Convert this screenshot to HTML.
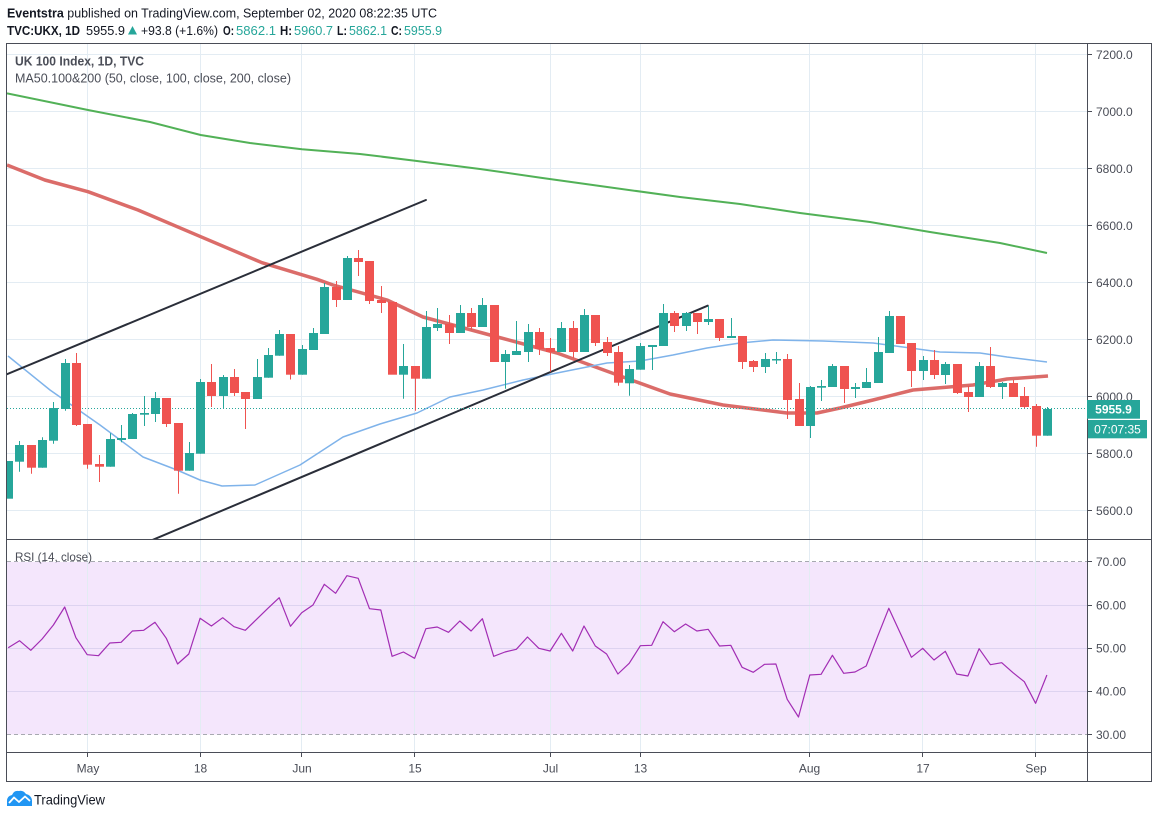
<!DOCTYPE html>
<html>
<head>
<meta charset="utf-8">
<style>
html,body{margin:0;padding:0;background:#fff;}
svg{display:block;}
text{font-family:"Liberation Sans",sans-serif;}
</style>
</head>
<body>
<svg width="1158" height="818" viewBox="0 0 1158 818" xmlns="http://www.w3.org/2000/svg">
<defs>
<clipPath id="mainclip"><rect x="7" y="44" width="1080" height="495"/></clipPath>
<clipPath id="rsiclip"><rect x="7" y="540" width="1080" height="212"/></clipPath>
</defs>
<rect x="0" y="0" width="1158" height="818" fill="#fff"/>

<!-- header -->
<text x="7" y="17.5" font-size="13" fill="#131722" textLength="430" lengthAdjust="spacingAndGlyphs"><tspan font-weight="bold">Eventstra</tspan> published on TradingView.com, September 02, 2020 08:22:35 UTC</text>
<g font-size="13">
<text x="7" y="35" font-weight="bold" fill="#131722" textLength="73" lengthAdjust="spacingAndGlyphs">TVC:UKX, 1D</text>
<text x="86" y="35" fill="#131722" textLength="39" lengthAdjust="spacingAndGlyphs">5955.9</text>
<path d="M128 34.5 L132.5 26 L137 34.5 Z" fill="#26a69a"/>
<text x="141" y="35" fill="#131722" textLength="77" lengthAdjust="spacingAndGlyphs">+93.8 (+1.6%)</text>
<text x="223" y="35" font-weight="bold" fill="#131722" textLength="11" lengthAdjust="spacingAndGlyphs">O:</text>
<text x="236" y="35" fill="#26a69a" textLength="40" lengthAdjust="spacingAndGlyphs">5862.1</text>
<text x="280" y="35" font-weight="bold" fill="#131722" textLength="12" lengthAdjust="spacingAndGlyphs">H:</text>
<text x="294" y="35" fill="#26a69a" textLength="39" lengthAdjust="spacingAndGlyphs">5960.7</text>
<text x="337" y="35" font-weight="bold" fill="#131722" textLength="10" lengthAdjust="spacingAndGlyphs">L:</text>
<text x="349" y="35" fill="#26a69a" textLength="38" lengthAdjust="spacingAndGlyphs">5862.1</text>
<text x="391" y="35" font-weight="bold" fill="#131722" textLength="11" lengthAdjust="spacingAndGlyphs">C:</text>
<text x="404" y="35" fill="#26a69a" textLength="38" lengthAdjust="spacingAndGlyphs">5955.9</text>
</g>

<!-- RSI band fill -->
<rect x="7" y="562" width="1080" height="172.5" fill="#f4e6fc"/>

<!-- grid -->
<g stroke="#e3ecf3" stroke-width="1" fill="none">
<path d="M7 54.5H1087M7 111.5H1087M7 168.5H1087M7 225.5H1087M7 282.5H1087M7 339.5H1087M7 396.5H1087M7 453.5H1087M7 510.5H1087"/>
<path d="M87.5 44V539M200.5 44V539M301.5 44V539M414.5 44V539M550.5 44V539M640.5 44V539M809.5 44V539M922.5 44V539M1035.5 44V539"/>
<path d="M87.5 540V752M200.5 540V752M301.5 540V752M414.5 540V752M550.5 540V752M640.5 540V752M809.5 540V752M922.5 540V752M1035.5 540V752"/>
</g>
<g stroke="#ddd3f0" stroke-width="1" fill="none">
<path d="M7 605.5H1087M7 648.5H1087M7 691.5H1087"/>
</g>
<g stroke="#a7a9b0" stroke-width="1" stroke-dasharray="4,3" fill="none">
<path d="M7 561.5H1087M7 734.5H1087"/>
</g>

<!-- main pane content -->
<g clip-path="url(#mainclip)">
<!-- MA200 -->
<polyline fill="none" stroke="#52b157" stroke-width="2" stroke-linejoin="round" points="7,93.3 88,110 150,122 200.7,135 250,143 302,149.3 360,154 415,160.7 480,169 540.7,177.7 600,186 680,197 740,204 800,213 870,222 930,232 1000,243 1047,253"/>
<!-- MA100 -->
<polyline fill="none" stroke="#d8605c" stroke-width="3.5" stroke-opacity="0.92" stroke-linejoin="round" points="7,165 44.8,180 88,191.7 138,210 200.7,236.7 262,262.7 317,279.3 333,285 387,300 423,317 490,335 557,353 623,377 670,394 723,405 787,413 817,413 840,408 873,400 913,390 973,385 1007,379 1048,376"/>
<!-- MA50 -->
<polyline fill="none" stroke="#7fb3ea" stroke-width="1.5" stroke-linejoin="round" points="8,356 50,390 100,425 143,457 177,470 200,480 222,486 255,485 300,465 343,437 380,424 417,413 450,397 483,390 523,380 557,373 607,363 640,361 673,355 707,348 740,343 773,340 823,341 873,343 940,352 980,353 1007,357 1047,362"/>

<!-- trendlines -->
<g stroke="#2a2e39" stroke-width="2" stroke-linecap="round">
<line x1="5" y1="375" x2="425.9" y2="200"/>
<line x1="150" y1="541" x2="707.7" y2="305.7"/>
</g>

<!-- current price dotted line -->
<line x1="7" y1="408.5" x2="1087" y2="408.5" stroke="#26a69a" stroke-width="1" stroke-dasharray="1,2"/>

<!-- green candles -->
<g fill="#26a69a">
<path stroke="#26a69a" stroke-width="1" fill="none" d="M19.5 441V471.7M42.5 437.3V467.7M53.5 402V443.7M65.5 359V410.7M110.5 433.3V466.7M121.5 425V442.3M132.5 413V439M144.5 396V426M155.5 392V422M189.5 442V470.7M200.5 379V453.7M223.5 375V408M257.5 359V399M268.5 348V377.7M279.5 330V355.7M302.5 345V374.7M313.5 328V350M324.5 283V334M347.5 256V300M403.5 344V398.7M426.5 311V378.7M437.5 308V331M460.5 305V333M482.5 298V327M505.5 350V388.7M516.5 321V355M528.5 324V362M561.5 322V352M584.5 309V352M629.5 365V395.7M640.5 343V369.7M652.5 345V370M663.5 304V346M686.5 312V331M708.5 306V325M731.5 318V338M765.5 353V373M776.5 352V364M810.5 386V438M821.5 380V401M832.5 364V387M855.5 383V398M866.5 368V388M878.5 337V383M889.5 311V353M923.5 356V380M945.5 362V384M979.5 362V397M1002.5 382V399M1047.5 407V435.7"/>
<rect x="4" y="461" width="9" height="37.7"/>
<rect x="15" y="445" width="9" height="16.7"/>
<rect x="38" y="440" width="9" height="27.7"/>
<rect x="49" y="408" width="9" height="32.7"/>
<rect x="61" y="363" width="9" height="46"/>
<rect x="106" y="439" width="9" height="27.7"/>
<rect x="117" y="438" width="9" height="2"/>
<rect x="128" y="414" width="9" height="25"/>
<rect x="140" y="413" width="9" height="1.7"/>
<rect x="151" y="398" width="9" height="16"/>
<rect x="185" y="453" width="9" height="17.7"/>
<rect x="196" y="382" width="9" height="71.7"/>
<rect x="219" y="377" width="9" height="19"/>
<rect x="253" y="377" width="9" height="22"/>
<rect x="264" y="355" width="9" height="22.7"/>
<rect x="275" y="334" width="9" height="21.7"/>
<rect x="298" y="349" width="9" height="25.7"/>
<rect x="309" y="333" width="9" height="17"/>
<rect x="320" y="287" width="9" height="47"/>
<rect x="343" y="258" width="9" height="42"/>
<rect x="399" y="366" width="9" height="8.7"/>
<rect x="422" y="327" width="9" height="51.7"/>
<rect x="433" y="324" width="9" height="4"/>
<rect x="456" y="313" width="9" height="20"/>
<rect x="478" y="305" width="9" height="22"/>
<rect x="501" y="354" width="9" height="8"/>
<rect x="512" y="351" width="9" height="4"/>
<rect x="524" y="332" width="9" height="20"/>
<rect x="557" y="328" width="9" height="24"/>
<rect x="580" y="315" width="9" height="37"/>
<rect x="625" y="369" width="9" height="14.3"/>
<rect x="636" y="346" width="9" height="23.7"/>
<rect x="648" y="345" width="9" height="2"/>
<rect x="659" y="313" width="9" height="33"/>
<rect x="682" y="313" width="9" height="13"/>
<rect x="704" y="319" width="9" height="3"/>
<rect x="727" y="336" width="9" height="2"/>
<rect x="761" y="359" width="9" height="8"/>
<rect x="772" y="359" width="9" height="1.5"/>
<rect x="806" y="387" width="9" height="39"/>
<rect x="817" y="386" width="9" height="1.7"/>
<rect x="828" y="366" width="9" height="21"/>
<rect x="851" y="387" width="9" height="2"/>
<rect x="862" y="382" width="9" height="6"/>
<rect x="874" y="352" width="9" height="31"/>
<rect x="885" y="316" width="9" height="37"/>
<rect x="919" y="360" width="9" height="11"/>
<rect x="941" y="364" width="9" height="11"/>
<rect x="975" y="366" width="9" height="31"/>
<rect x="998" y="383" width="9" height="4"/>
<rect x="1043" y="409" width="9" height="26.7"/>
</g>

<!-- red candles -->
<g fill="#ef5350">
<path stroke="#ef5350" stroke-width="1" fill="none" d="M31.5 445V473.7M76.5 353V426M87.5 424V468.7M99.5 455V482M166.5 398V427M178.5 423V493.7M211.5 364V407M234.5 369V396M245.5 392V429M290.5 334V379.5M336.5 281V307M358.5 250V276M369.5 261V304M381.5 286V313M415.5 366V410.7M449.5 315V344M471.5 308V330M539.5 328V355M550.5 338V371.7M573.5 321V358M595.5 315V346M607.5 337V356M618.5 346V385.7M674.5 311V332M697.5 313V334M719.5 319V341M742.5 336V369M753.5 360V372M787.5 354V419M799.5 383V426M844.5 366V403M911.5 343V387M934.5 350V379M957.5 364V394M968.5 386V412M990.5 347V388M1013.5 380V397M1024.5 387V408M1036.5 404V446.7"/>
<rect x="27" y="445" width="9" height="22.7"/>
<rect x="72" y="363" width="9" height="62"/>
<rect x="83" y="424" width="9" height="40.7"/>
<rect x="95" y="464" width="9" height="2.7"/>
<rect x="162" y="398" width="9" height="26"/>
<rect x="174" y="423" width="9" height="47.7"/>
<rect x="207" y="382" width="9" height="14"/>
<rect x="230" y="377" width="9" height="16"/>
<rect x="241" y="392" width="9" height="7"/>
<rect x="286" y="334" width="9" height="40.7"/>
<rect x="332" y="287" width="9" height="13"/>
<rect x="354" y="258" width="9" height="4"/>
<rect x="365" y="261" width="9" height="40"/>
<rect x="377" y="300" width="9" height="3"/>
<rect x="388" y="302" width="9" height="72.7"/>
<rect x="411" y="366" width="9" height="12.7"/>
<rect x="445" y="324" width="9" height="9"/>
<rect x="467" y="313" width="9" height="14"/>
<rect x="490" y="305" width="9" height="57"/>
<rect x="535" y="332" width="9" height="17"/>
<rect x="546" y="348" width="9" height="4"/>
<rect x="569" y="328" width="9" height="24"/>
<rect x="591" y="315" width="9" height="28"/>
<rect x="603" y="342" width="9" height="11"/>
<rect x="614" y="352" width="9" height="30.7"/>
<rect x="670" y="313" width="9" height="13"/>
<rect x="693" y="313" width="9" height="9"/>
<rect x="715" y="319" width="9" height="19"/>
<rect x="738" y="336" width="9" height="26"/>
<rect x="749" y="361" width="9" height="6"/>
<rect x="783" y="359" width="9" height="41"/>
<rect x="795" y="399" width="9" height="27"/>
<rect x="840" y="366" width="9" height="23"/>
<rect x="896" y="316" width="9" height="28"/>
<rect x="907" y="343" width="9" height="28"/>
<rect x="930" y="360" width="9" height="15"/>
<rect x="953" y="364" width="9" height="29"/>
<rect x="964" y="392" width="9" height="5"/>
<rect x="986" y="366" width="9" height="21"/>
<rect x="1009" y="383" width="9" height="14"/>
<rect x="1020" y="396" width="9" height="11"/>
<rect x="1032" y="406" width="9" height="29.7"/>
</g>
</g>

<!-- RSI line -->
<g clip-path="url(#rsiclip)">
<polyline fill="none" stroke="#a22db4" stroke-width="1.2" stroke-linejoin="round" points="8.2,647.7 19.5,640.7 30.8,650.3 42.1,639 53.4,625 64.7,607 75.9,637.7 87.2,654.7 98.5,655.7 109.8,643 121.1,642.3 132.4,631 143.7,630.3 155,622.3 166.3,638.3 177.6,664 188.8,654 200.1,618.3 211.4,626 222.7,617.7 234,626.7 245.3,630.3 256.6,619.3 267.9,608.3 279.2,597.7 290.5,626.3 301.7,612.7 313,605 324.3,584.3 335.6,593.3 346.9,575.7 358.2,578.3 369.5,608.7 380.8,610 392.1,656.3 403.4,652 414.6,658.3 425.9,628.7 437.2,627 448.5,632.3 459.8,621 471.1,631 482.4,618.7 493.7,656.3 505,652 516.3,649.3 527.5,637 538.8,648.3 550.1,651 561.4,633.3 572.7,651 584,626 595.3,646 606.6,654 617.9,674 629.2,663.3 640.4,645.7 651.7,645.3 663,621.7 674.3,631.7 685.6,624 696.9,631 708.2,629.3 719.5,646 730.8,645.3 742.1,667.3 753.3,672.3 764.6,664.3 775.9,664 787.2,699.3 798.5,717 809.8,675 821.1,674.3 832.4,655.3 843.7,673.3 855,672 866.2,666 877.5,636.7 888.8,608.3 900.1,632.7 911.4,657.3 922.7,648.3 934,660 945.3,651.3 956.6,674 967.9,676 979.1,648.7 990.4,664.7 1001.7,662.7 1013,672.7 1024.3,681.7 1035.6,703.3 1046.9,675"/>
</g>

<!-- legends -->
<text x="15" y="65.5" font-size="13" font-weight="bold" fill="#4a4d57" textLength="129" lengthAdjust="spacingAndGlyphs">UK 100 Index, 1D, TVC</text>
<text x="15" y="82.5" font-size="13" fill="#4a4d57" textLength="276" lengthAdjust="spacingAndGlyphs">MA50.100&amp;200 (50, close, 100, close, 200, close)</text>
<text x="15" y="561" font-size="12" fill="#4a4d57" textLength="77" lengthAdjust="spacingAndGlyphs">RSI (14, close)</text>

<!-- frame / axes -->
<g stroke="#4a4d57" stroke-width="1" fill="none">
<rect x="6.5" y="43.5" width="1145" height="738"/>
<path d="M1087.5 43.5V781.5"/>
<path d="M6.5 539.5H1151.5"/>
<path d="M6.5 752.5H1151.5"/>
<!-- price ticks -->
<path d="M1087.5 54.5H1092M1087.5 111.5H1092M1087.5 168.5H1092M1087.5 225.5H1092M1087.5 282.5H1092M1087.5 339.5H1092M1087.5 396.5H1092M1087.5 453.5H1092M1087.5 510.5H1092"/>
<path d="M1087.5 561.5H1092M1087.5 605.5H1092M1087.5 648.5H1092M1087.5 691.5H1092M1087.5 734.5H1092"/>
<!-- time ticks -->
<path d="M87.5 752.5V757M200.5 752.5V757M301.5 752.5V757M414.5 752.5V757M550.5 752.5V757M640.5 752.5V757M809.5 752.5V757M922.5 752.5V757M1035.5 752.5V757"/>
</g>

<!-- price axis labels -->
<g font-size="12" fill="#4a4d57">
<text x="1096" y="59">7200.0</text>
<text x="1096" y="116">7000.0</text>
<text x="1096" y="173">6800.0</text>
<text x="1096" y="230">6600.0</text>
<text x="1096" y="287">6400.0</text>
<text x="1096" y="344">6200.0</text>
<text x="1096" y="401">6000.0</text>
<text x="1096" y="458">5800.0</text>
<text x="1096" y="515">5600.0</text>
<text x="1096" y="566">70.00</text>
<text x="1096" y="609.5">60.00</text>
<text x="1096" y="652.5">50.00</text>
<text x="1096" y="695.5">40.00</text>
<text x="1096" y="739">30.00</text>
</g>

<!-- price labels -->
<rect x="1087" y="400" width="53" height="18.7" fill="#26a69a"/>
<text x="1113.5" y="413.5" font-size="12" font-weight="bold" fill="#fff" text-anchor="middle">5955.9</text>
<rect x="1088" y="420" width="59" height="18.3" fill="#26a69a"/>
<text x="1117.5" y="433.5" font-size="12" fill="#fff" text-anchor="middle">07:07:35</text>

<!-- time axis labels -->
<g font-size="12" fill="#4a4d57" text-anchor="middle">
<text x="88" y="772.5">May</text>
<text x="200.5" y="772.5">18</text>
<text x="302" y="772.5">Jun</text>
<text x="415" y="772.5">15</text>
<text x="550.5" y="772.5">Jul</text>
<text x="640.5" y="772.5">13</text>
<text x="809.5" y="772.5">Aug</text>
<text x="923" y="772.5">17</text>
<text x="1036" y="772.5">Sep</text>
</g>

<!-- TradingView logo -->
<g fill="#2196f3">
<path d="M7 806 L7 801 Q7 796 12 795 Q14 790 19 791 Q23 790 26 794 Q31 795 32 800 L32 806 Z"/>
</g>
<path d="M9 803 L14 797.5 L19 802 L25 796.5 L30 801" fill="none" stroke="#fff" stroke-width="1.8" stroke-linejoin="round"/>
<text x="34" y="804.5" font-size="13.5" fill="#131722" textLength="71" lengthAdjust="spacingAndGlyphs">TradingView</text>
</svg>
</body>
</html>
